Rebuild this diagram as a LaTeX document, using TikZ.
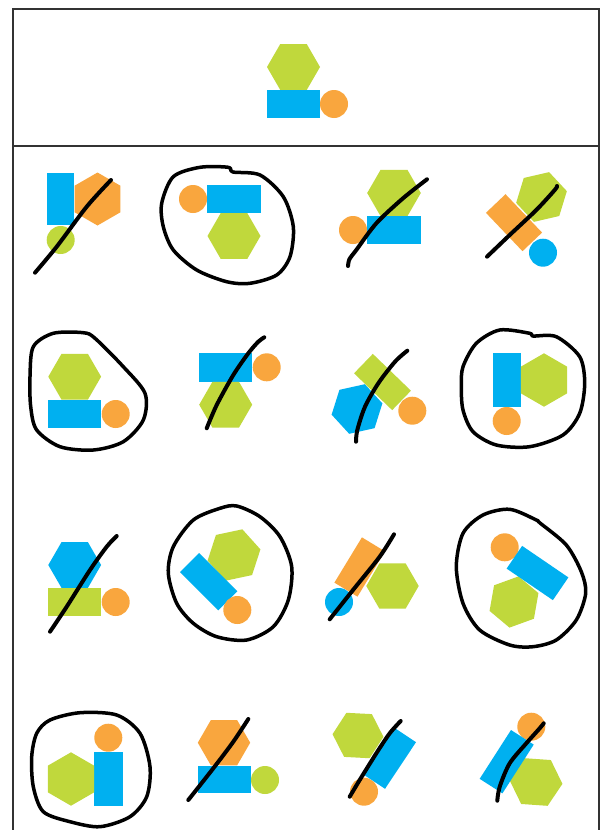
\documentclass[tikz,border=0pt]{standalone}
\usetikzlibrary{calc}
\definecolor{cblue}{HTML}{00B0F0}
\definecolor{cgreen}{HTML}{C0D83C}
\definecolor{corange}{HTML}{F9A63E}
\definecolor{frame}{HTML}{333333}
\newcommand{\hexa}[5]{\fill[#1] (#2,#3) +(#5:#4) -- +(#5+60:#4) -- +(#5+120:#4) -- +(#5+180:#4) -- +(#5+240:#4) -- +(#5+300:#4) -- cycle;}
\newcommand{\rrect}[6]{\fill[#1, rotate around={#6:(#2,#3)}] ({#2-#4/2},{#3-#5/2}) rectangle ({#2+#4/2},{#3+#5/2});}
\newcommand{\disc}[3]{\fill[#1] (#2,#3) circle[radius=14];}
\tikzset{
  cross/.style={draw=black, line width=4pt, line cap=round, line join=round},
  ring/.style={draw=black, line width=3.5pt, line cap=round, line join=round},
  framel/.style={draw=frame, line width=2pt}
}
\begin{document}
\begin{tikzpicture}[x=1pt,y=-1pt]
\useasboundingbox (0,0) rectangle (606,830);
\fill[white] (0,0) rectangle (606,830);
% frame
\draw[framel] (12.5,830) -- (12.5,8.5) -- (598.5,8.5) -- (598.5,830);
\draw[framel] (12.5,145.5) -- (598.5,145.5);
% top example
\hexa{cgreen}{293.5}{67}{26.5}{0}
\fill[cblue] (267,90) rectangle (320,118);
\disc{corange}{334}{104}
% ---- row 1
% (1,1)
\fill[cblue] (46.7,172.7) rectangle (74,225.3);
\hexa{corange}{97.5}{199}{26.5}{30}
\disc{cgreen}{60.7}{240}
\draw[cross] plot[smooth] coordinates {(35,272.7) (56.7,246.7) (86.7,206.7) (111,180)};
% (1,2)
\disc{corange}{193}{199}
\fill[cblue] (207,185) rectangle (261,213);
\hexa{cgreen}{234}{236}{26.5}{0}
\draw[ring] plot[smooth cycle] coordinates {(161.7,203.3) (173.3,176.7) (200,167.3) (228.3,167.3) (233,172) (260,175) (283.3,196.7) (293.3,226.7) (290,256.7) (276.7,275) (250,283.3) (226.7,281.7) (196.7,270) (173.3,250) (163.3,226.7)};
% (1,3)
\hexa{cgreen}{394}{193}{26.8}{0}
\fill[cblue] (367.3,216) rectangle (420.7,244);
\disc{corange}{353}{230}
\draw[cross] plot[smooth] coordinates {(348,266) (349.5,259) (356.3,250) (376.3,223.3) (403,198.3) (427,179.3)};
% (1,4)
\hexa{cgreen}{541.5}{197}{26}{-13}
\rrect{corange}{514}{222.7}{53}{27}{-46.4}
\disc{cblue}{543}{252.7}
\draw[cross] plot[smooth] coordinates {(487,256.7) (509.7,235) (536.3,210) (554.7,190) (557,186)};
% ---- row 2
% (2,1)
\hexa{cgreen}{74.7}{376.7}{26.4}{0}
\fill[cblue] (48.3,400) rectangle (101,428.3);
\disc{corange}{115.7}{414}
\draw[ring] plot[smooth cycle] coordinates {(30,376.7) (33.3,346.7) (53.3,333.3) (83.3,332.7) (95,338.3) (123.3,366.7) (145,393.3) (143.3,420) (123.3,441.7) (93.3,450) (60,446.7) (36.7,430) (30.7,406.7)};
% (2,2)
\fill[cblue] (199,353.3) rectangle (252.3,381.7);
\disc{corange}{266.7}{367.3}
\hexa{cgreen}{225.7}{404.7}{26.5}{0}
\draw[cross] plot[smooth] coordinates {(206.7,428.3) (216.7,405) (233.3,375) (248.3,353.3) (258.3,341.7) (264.3,337.3)};
% (2,3)
\hexa{cblue}{357}{409}{26}{-12.5}
\rrect{cgreen}{382.5}{382}{53}{27}{-44}
\disc{corange}{412.3}{410.7}
\draw[cross] plot[smooth] coordinates {(356,441.7) (357.3,430) (365,406.7) (378.3,383.3) (395,361.7) (407.3,350.7)};
% (2,4)
\fill[cblue] (493,353.3) rectangle (520.7,406.7);
\hexa{cgreen}{544}{380}{26.7}{30}
\disc{corange}{506.7}{421}
\draw[ring] plot[smooth cycle] coordinates {(461.3,386.7) (463,366.7) (476.3,343.3) (499.7,330) (529.7,333.3) (533,336) (556.3,336.7) (579.7,356.7) (584.7,383.3) (579.7,413.3) (563,435) (529.7,446.7) (496.3,445) (473,431.7) (463,410)};
% ---- row 3
% (3,1)
\hexa{cblue}{74.7}{565}{26.4}{0}
\fill[cgreen] (48.3,588.3) rectangle (101,616);
\disc{corange}{115.7}{602}
\draw[cross] plot[smooth] coordinates {(50,631.7) (66.7,606.7) (90,570) (106.7,546.7) (116.7,536)};
% (3,2)
\hexa{cgreen}{234}{555}{27}{-12}
\rrect{cblue}{208.7}{581.7}{54}{27}{-45}
\disc{corange}{237.3}{610}
\draw[ring] plot[smooth cycle] coordinates {(168.3,573.3) (173.3,546.7) (193.3,520) (220,508.3) (236.7,506) (260,516.7) (280,536.7) (291.7,566.7) (288.3,600) (273.3,626.7) (246.7,640) (216.7,636.7) (193.3,623.3) (176.7,603.3)};
% (3,3)
\disc{cblue}{339}{602}
\rrect{corange}{359.7}{567}{53}{27}{58.7}
\hexa{cgreen}{392.5}{586}{26.2}{0}
\draw[cross] plot[smooth] coordinates {(329.7,619.3) (353,590) (379.7,556.7) (394,534.3)};
% (3,4)
\disc{corange}{504.7}{547.3}
\hexa{cgreen}{514}{602}{26}{-20}
\rrect{cblue}{537.5}{573}{56}{27.5}{-34.3}
\draw[ring] plot[smooth cycle] coordinates {(456.3,566.7) (463,533.3) (483,515) (509.7,509.3) (536.3,520) (540,523) (566.3,545) (581.3,571.7) (585.7,593.3) (576.3,620) (556.3,640) (533,646.7) (509.7,645) (479.7,630) (463,603.3)};
% ---- row 4
% (4,1)
\disc{corange}{108.3}{737.7}
\fill[cblue] (94.3,752) rectangle (122.7,806);
\hexa{cgreen}{71}{779}{26.7}{30}
\draw[ring] plot[smooth cycle] coordinates {(31.7,756.7) (36.7,733.3) (50,720) (80,712.7) (116.7,715) (140,733.3) (150,766.7) (146.7,796.7) (130,816.7) (100,826.7) (70,821.7) (43.3,811.7) (33.3,786.7)};
% (4,2)
\hexa{corange}{224}{742.7}{26.2}{0}
\fill[cblue] (197.7,766) rectangle (251,793.3);
\disc{cgreen}{265}{780}
\draw[cross] plot[smooth] coordinates {(188.3,800) (213.3,768.3) (233.3,741.7) (248.3,719)};
% (4,3)
\disc{corange}{364}{791.7}
\hexa{cgreen}{358}{735.5}{25.5}{3}
\rrect{cblue}{389.7}{758.3}{56}{26}{56.4}
\draw[cross] plot[smooth] coordinates {(349.7,796.7) (359.7,780) (376.3,753.3) (389.7,733.3) (400.7,721)};
% (4,4)
\disc{corange}{531.3}{726.7}
\hexa{cgreen}{536}{782}{26.5}{4}
\rrect{cblue}{506.7}{761.7}{58}{27}{57.3}
\draw[cross] plot[smooth] coordinates {(497.3,800.7) (499.7,786.7) (509.7,763.3) (526.3,743.3) (539.7,728.3) (543.7,723.3)};
\end{tikzpicture}
\end{document}
